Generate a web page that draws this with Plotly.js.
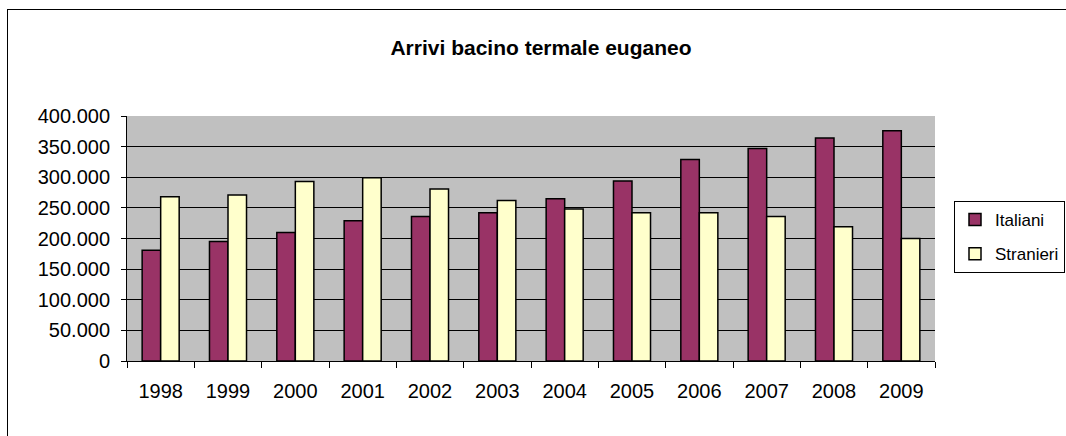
<!DOCTYPE html>
<html><head><meta charset="utf-8">
<script src="https://cdn.plot.ly/plotly-3.0.1.min.js"></script>
<style>
html,body{margin:0;padding:0;background:#fff;overflow:hidden;}
#chart{position:absolute;left:0;top:0;width:1066px;height:436px;}
#frame{position:absolute;left:7px;top:9px;width:1070px;height:440px;border:1px solid #000;pointer-events:none;}
</style>
</head><body>
<div id="chart"></div>
<div id="frame"></div>
<script>
const years = ['1998','1999','2000','2001','2002','2003','2004','2005','2006','2007','2008','2009'];
const italiani = [181000,195000,210000,229000,236000,242000,265000,294000,329000,347000,364000,376000];
const stranieri = [268000,271000,293000,299000,281000,262000,248000,242000,242000,236000,219000,200000];
const yTicks = [0,50000,100000,150000,200000,250000,300000,350000,400000];

const fam = 'Arial, Liberation Sans, sans-serif';
const tickFont = {family:fam, size:20, color:'#000'};
const traces = [
  {type:'bar', name:'Italiani', legendgroup:'a', x:years, y:italiani,
   marker:{color:'#993366', line:{color:'#000', width:1.5}}},
  {type:'bar', name:'Stranieri', legendgroup:'b', x:years, y:stranieri,
   marker:{color:'#FFFFCC', line:{color:'#000', width:1.5}}}
];
const layout = {
  width:1066, height:436,
  margin:{l:127, r:131, t:116, b:75, autoexpand:false},
  paper_bgcolor:'#fff', plot_bgcolor:'#C0C0C0',
  separators:',.',
  font:tickFont,
  title:{text:'<b>Arrivi bacino termale euganeo</b>', font:{family:fam,size:21,color:'#000'},
         x:541/1066, xanchor:'center', y:1-48/436, yanchor:'middle'},
  barmode:'group', bargap:0.45, bargroupgap:0,
  xaxis:{type:'category', showline:true, linecolor:'#000', linewidth:1,
         ticks:'outside', ticklen:6, tickcolor:'#000', tickson:'boundaries',
         showgrid:false, tickfont:tickFont, ticklabelstandoff:12, automargin:false},
  yaxis:{range:[0,400000], tickvals:yTicks, tickformat:',d',
         showline:true, linecolor:'#000', linewidth:1,
         ticks:'outside', ticklen:5, tickcolor:'#000',
         showgrid:true, gridcolor:'#000', gridwidth:1, zeroline:false,
         tickfont:tickFont, ticklabelstandoff:7, automargin:false},
  showlegend:true,
  legend:{x:(954-127)/808, xanchor:'left', y:(361-201)/245, yanchor:'top',
          bordercolor:'#000', borderwidth:1, bgcolor:'#fff', traceorder:'grouped',
          font:{family:fam,size:17,color:'#000'}, tracegroupgap:9,
          itemwidth:30}
};
Plotly.newPlot('chart', traces, layout, {displayModeBar:false, staticPlot:true});
</script>
</body></html>
